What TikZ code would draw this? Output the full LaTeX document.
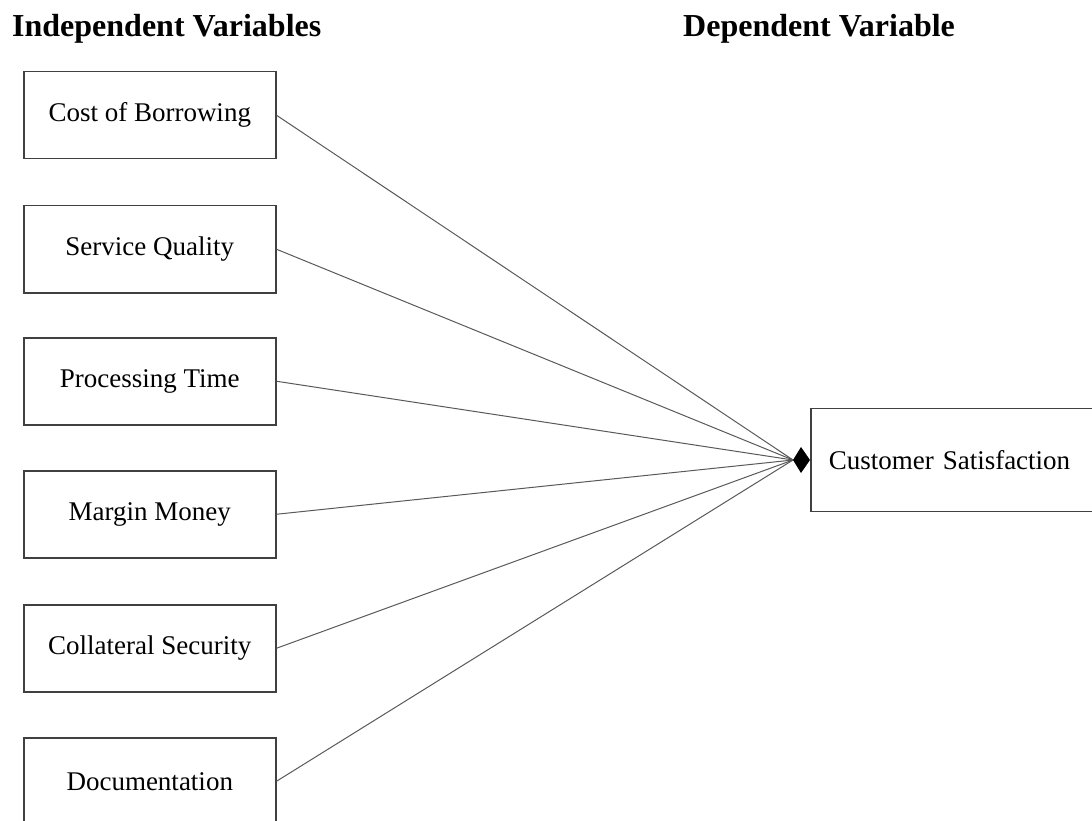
\documentclass[tikz,border=0pt]{standalone}
\usepackage{fontspec}
\setmainfont{Liberation Serif}
\begin{document}
\begin{tikzpicture}[x=1pt,y=-1pt,
  varbox/.style={draw=black!75,line width=1.5pt,minimum width=252pt,minimum height=87pt,inner sep=0pt,font=\fontsize{27}{30}\selectfont,anchor=north west},
  head/.style={font=\bfseries\fontsize{32}{36}\selectfont,anchor=base west,inner sep=0pt},
  link/.style={draw=black!65,line width=1pt}]
\useasboundingbox (0,0) rectangle (1092,821);
\clip (0,0) rectangle (1092,821);
% column headings
\node[head] (hi) at (12,37) {Independent Variables};
\node[head] (hd) at (683,37) {Dependent Variable};
% independent variables
\node[varbox] (b1) at (23,71) {Cost of Borrowing};
\node[varbox] (b2) at (23,205) {Service Quality};
\node[varbox] (b3) at (23,337) {Processing Time};
\node[varbox] (b4) at (23,470) {Margin Money};
\node[varbox] (b5) at (23,604) {Collateral Security};
\node[varbox] (b6) at (23,737) {Documentation};
% dependent variable
\node[varbox,minimum width=300pt,minimum height=103pt,anchor=west,align=left,text width=282pt] (cs) at (810,460) {\hspace*{9pt}Customer Satisfaction};
% connectors meeting at the diamond head
\coordinate (tip) at (793,460);
\foreach \i in {1,...,6} \draw[link] (b\i.east) -- (tip);
\fill[black] (tip) -- (801,447) -- (810,460) -- (801,473) -- cycle;
\end{tikzpicture}
\end{document}
